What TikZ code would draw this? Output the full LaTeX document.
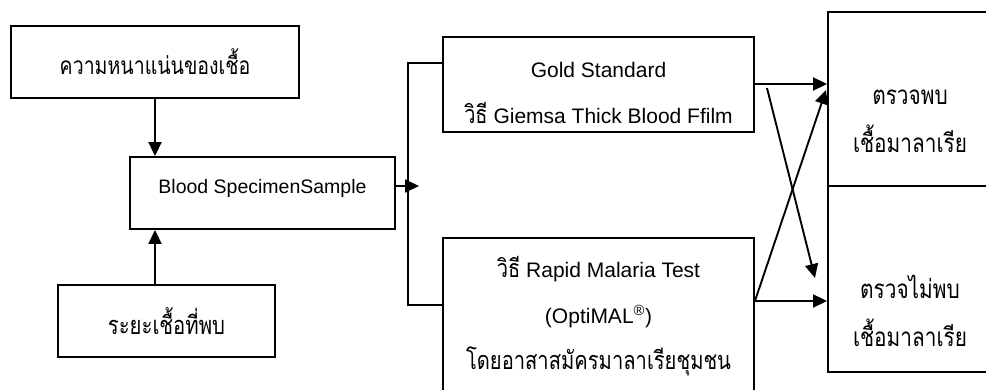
\documentclass[tikz,border=0pt]{standalone}
\usepackage{fontspec}
\setmainfont{Liberation Sans}
\newfontfamily\thai[Script=Thai,FakeStretch=0.8]{Loma}
\usetikzlibrary{arrows.meta}
\begin{document}
\begin{tikzpicture}[x=1pt,y=-1pt,
  box/.style={draw,line width=1.9pt,inner sep=0pt,align=center},
  conn/.style={line width=1.9pt},
  arr/.style={conn,-{Triangle[length=14pt,width=13pt]}},
  lat/.style={align=center,inner sep=0pt,font=\fontsize{21}{46}\selectfont},
  thb/.style={align=center,inner sep=0pt,font=\fontsize{26}{48}\selectfont\thai},
]
\useasboundingbox (0,0) rectangle (986,390);
\clip (0,0) rectangle (986,390);
\fill[white] (0,0) rectangle (986,390);
\node[box,minimum width=288pt,minimum height=72pt,font=\fontsize{24.4}{28}\selectfont\thai] (b1) at (155,62) {ความหนาแน่นของเชื้อ};
\node[box,minimum width=265pt,minimum height=72pt] (b2) at (262.5,193) {};
\node[inner sep=0pt,font=\fontsize{19.5}{24}\selectfont] (b2txt) at (262.5,188) {Blood SpecimenSample};
\node[box,minimum width=217pt,minimum height=72pt,font=\fontsize{25.4}{30}\selectfont\thai] (b3) at (166.5,321) {ระยะเชื้อที่พบ};
\node[box,minimum width=311pt,minimum height=95pt] (gold) at (598.5,84.5) {};
\node[lat] (goldtxt) at (598.5,92.5) {Gold Standard\\{\fontsize{25}{46}\selectfont\thai วิธี} Giemsa Thick Blood Ffilm};
\node[box,minimum width=311pt,minimum height=182pt] (rapid) at (598.5,329) {};
\node[lat] (rapidtxt) at (598.5,316) {{\fontsize{25}{46}\selectfont\thai วิธี} Rapid Malaria Test\\(OptiMAL\textsuperscript{®})\\{\fontsize{25.2}{46}\selectfont\thai โดยอาสาสมัครมาลาเรียชุมชน}};
\node[box,minimum width=182pt,minimum height=174pt] (pos) at (919,99) {};
\node[thb] (postxt) at (910,121) {ตรวจพบ\\เชื้อมาลาเรีย};
\node[box,minimum width=182pt,minimum height=186pt] (neg) at (919,279) {};
\node[thb] (negtxt) at (910,311) {ตรวจไม่พบ\\เชื้อมาลาเรีย};
\coordinate (cx) at (155,0);
\draw[arr] (b1.south -| cx) -- (b2.north -| cx);
\draw[arr] (b3.north -| cx) -- (b2.south -| cx);
\coordinate (br) at (407.7,186);
\coordinate (btip) at (419,186);
\coordinate (gy) at (0,63);
\coordinate (ry) at (0,305);
\draw[arr] (b2.east |- btip) -- (btip);
\draw[conn] (gold.west |- gy) -| (br) |- (rapid.west |- ry);
\coordinate (ay) at (0,84);
\coordinate (by) at (0,301);
\draw[arr] (gold.east |- ay) -- (pos.west |- ay);
\draw[arr] (rapid.east |- by) -- (neg.west |- by);
\coordinate (c1s) at (767,88);
\coordinate (c1e) at (815,278);
\coordinate (c2e) at (826,90);
\draw[arr] (c1s) -- (c1e);
\draw[arr] (rapid.east |- by) -- (c2e);
\end{tikzpicture}
\end{document}
